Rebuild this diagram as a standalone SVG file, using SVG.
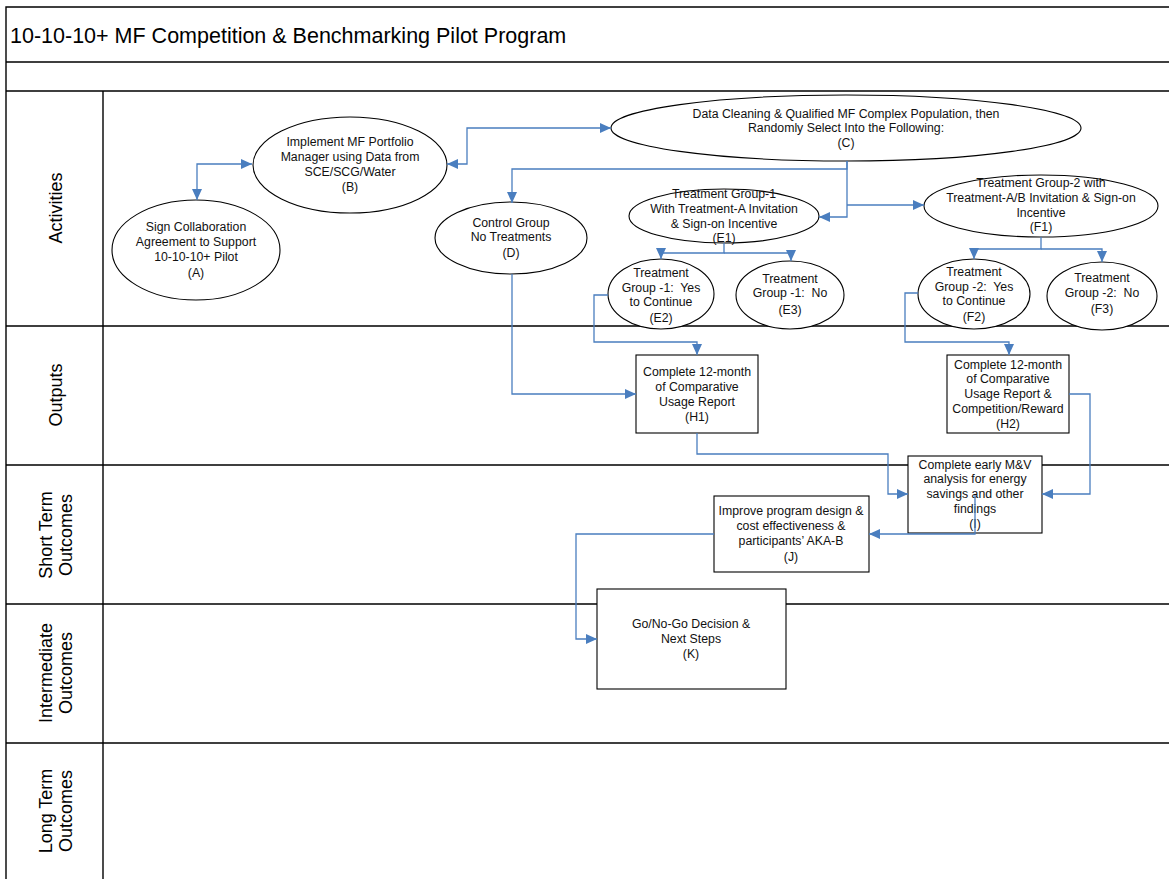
<svg xmlns="http://www.w3.org/2000/svg" width="1169" height="879" viewBox="0 0 1169 879">
<style>
.lane{stroke:#000;stroke-width:1.4;fill:none}
.n{fill:#fff;stroke:#000;stroke-width:1.1}
.t{font-family:"Liberation Sans",Arial,sans-serif;font-size:12.3px;fill:#111;text-anchor:middle}
.lbl{font-family:"Liberation Sans",Arial,sans-serif;font-size:18px;fill:#000;text-anchor:middle}
.title{font-family:"Liberation Sans",Arial,sans-serif;font-size:21.5px;fill:#000}
.c{fill:none;stroke:#4a7ebf;stroke-width:1.3}
.b{marker-end:url(#ah)}
.bb{marker-start:url(#ah);marker-end:url(#ah)}
</style>
<defs>
<marker id="ah" markerUnits="userSpaceOnUse" markerWidth="12" markerHeight="10" refX="11" refY="5" orient="auto-start-reverse">
<path d="M0,0 L11,5 L0,10 Z" fill="#4a7ebf"/>
</marker>
</defs>
<rect width="1169" height="879" fill="#fff"/>
<g id="frame">
<path class="lane" d="M6,879 V7 H1169 M6,62 H1169 M6,91 H1169 M103,91 V879 M6,326 H1169 M6,465 H1169 M6,604 H1169 M6,743 H1169"/>
<text class="title" x="10" y="43">10-10-10+ MF Competition &amp; Benchmarking Pilot Program</text>
<text class="lbl" transform="translate(0,208) rotate(-90)" x="0" y="62">Activities</text>
<text class="lbl" transform="translate(0,395) rotate(-90)" x="0" y="62">Outputs</text>
<text class="lbl" transform="translate(0,535) rotate(-90)" x="0" y="52">Short Term</text>
<text class="lbl" transform="translate(0,535) rotate(-90)" x="0" y="72">Outcomes</text>
<text class="lbl" transform="translate(0,673) rotate(-90)" x="0" y="52">Intermediate</text>
<text class="lbl" transform="translate(0,673) rotate(-90)" x="0" y="72">Outcomes</text>
<text class="lbl" transform="translate(0,811) rotate(-90)" x="0" y="52">Long Term</text>
<text class="lbl" transform="translate(0,811) rotate(-90)" x="0" y="72">Outcomes</text>
</g>
<g id="A"><ellipse class="n" cx="196" cy="250" rx="84" ry="50"/>
<text class="t" x="196" y="231">Sign Collaboration</text><text class="t" x="196" y="246">Agreement to Support</text><text class="t" x="196" y="261">10-10-10+ Pilot</text><text class="t" x="196" y="277">(A)</text></g>
<g id="B"><ellipse class="n" cx="350" cy="165" rx="97" ry="48"/>
<text class="t" x="350" y="146">Implement MF Portfolio</text><text class="t" x="350" y="161">Manager using Data from</text><text class="t" x="350" y="176">SCE/SCG/Water</text><text class="t" x="350" y="191">(B)</text></g>
<g id="C"><ellipse class="n" cx="846" cy="128" rx="235" ry="33"/>
<text class="t" x="846" y="118">Data Cleaning &amp; Qualified MF Complex Population, then</text><text class="t" x="846" y="132">Randomly Select Into the Following:</text><text class="t" x="846" y="147">(C)</text></g>
<g id="D"><ellipse class="n" cx="511" cy="238" rx="76" ry="36"/>
<text class="t" x="511" y="227">Control Group</text><text class="t" x="511" y="241">No Treatments</text><text class="t" x="511" y="257">(D)</text></g>
<g id="E1"><ellipse class="n" cx="724" cy="216" rx="95" ry="27"/>
<text class="t" x="724" y="198">Treatment Group-1</text><text class="t" x="724" y="213">With Treatment-A Invitation</text><text class="t" x="724" y="228">&amp; Sign-on Incentive</text><text class="t" x="724" y="242">(E1)</text></g>
<g id="E2"><ellipse class="n" cx="661" cy="294" rx="53" ry="35"/>
<text class="t" x="661" y="277">Treatment</text><text class="t" x="661" y="292" xml:space="preserve">Group -1:  Yes</text><text class="t" x="661" y="306">to Continue</text><text class="t" x="661" y="322">(E2)</text></g>
<g id="E3"><ellipse class="n" cx="790" cy="295" rx="54" ry="34"/>
<text class="t" x="790" y="283">Treatment</text><text class="t" x="790" y="297" xml:space="preserve">Group -1:  No</text><text class="t" x="790" y="314">(E3)</text></g>
<g id="F1"><ellipse class="n" cx="1041" cy="206" rx="117" ry="31"/>
<text class="t" x="1041" y="187">Treatment Group-2 with</text><text class="t" x="1041" y="202">Treatment-A/B Invitation &amp; Sign-on</text><text class="t" x="1041" y="217">Incentive</text><text class="t" x="1041" y="231">(F1)</text></g>
<g id="F2"><ellipse class="n" cx="974" cy="294" rx="56" ry="35"/>
<text class="t" x="974" y="276">Treatment</text><text class="t" x="974" y="291" xml:space="preserve">Group -2:  Yes</text><text class="t" x="974" y="305">to Continue</text><text class="t" x="974" y="321">(F2)</text></g>
<g id="F3"><ellipse class="n" cx="1102" cy="296" rx="55" ry="34"/>
<text class="t" x="1102" y="282">Treatment</text><text class="t" x="1102" y="297" xml:space="preserve">Group -2:  No</text><text class="t" x="1102" y="313">(F3)</text></g>
<g id="H1"><rect class="n" x="636" y="355" width="122" height="78"/>
<text class="t" x="697" y="376">Complete 12-month</text><text class="t" x="697" y="391">of Comparative</text><text class="t" x="697" y="406">Usage Report</text><text class="t" x="697" y="421">(H1)</text></g>
<g id="H2"><rect class="n" x="947" y="355" width="122" height="78"/>
<text class="t" x="1008" y="369">Complete 12-month</text><text class="t" x="1008" y="383">of Comparative</text><text class="t" x="1008" y="398">Usage Report &amp;</text><text class="t" x="1008" y="413">Competition/Reward</text><text class="t" x="1008" y="428">(H2)</text></g>
<g id="I"><rect class="n" x="908" y="456" width="134" height="77"/>
<text class="t" x="975" y="469">Complete early M&amp;V</text><text class="t" x="975" y="483">analysis for energy</text><text class="t" x="975" y="498">savings and other</text><text class="t" x="975" y="513">findings</text><text class="t" x="975" y="528">(I)</text></g>
<g id="J"><rect class="n" x="714" y="496" width="155" height="76"/>
<text class="t" x="791" y="515">Improve program design &amp;</text><text class="t" x="791" y="530">cost effectiveness &amp;</text><text class="t" x="791" y="545">participants’ AKA-B</text><text class="t" x="791" y="561">(J)</text></g>
<g id="K"><rect class="n" x="597" y="589" width="189" height="100"/>
<text class="t" x="691" y="628">Go/No-Go Decision &amp;</text><text class="t" x="691" y="643">Next Steps</text><text class="t" x="691" y="658">(K)</text></g>
<g id="connectors">
<path class="c bb" d="M197,200 V164 H252"/>
<path class="c bb" d="M447,164 H467 V128 H611"/>
<path class="c b" d="M847,161 V169 H512 V203"/>
<path class="c b" d="M847,161 V217 H819"/>
<path class="c b" d="M847,205 H924"/>
<path class="c b" d="M724,243 V253 H661 V259"/>
<path class="c b" d="M724,253 H791 V261"/>
<path class="c b" d="M1041,237 V249 H974 V259"/>
<path class="c b" d="M1041,249 H1102 V262"/>
<path class="c b" d="M512,274 V394 H636"/>
<path class="c b" d="M608,295 H594 V342 H697 V355"/>
<path class="c b" d="M918,293 H905 V342 H1009 V355"/>
<path class="c b" d="M697,433 V454 H888 V494 H908"/>
<path class="c b" d="M1069,394 H1090 V494 H1042"/>
<path class="c b" d="M975,495 V534 H869"/>
<path class="c b" d="M714,534 H576 V639 H597"/>
</g>
</svg>
